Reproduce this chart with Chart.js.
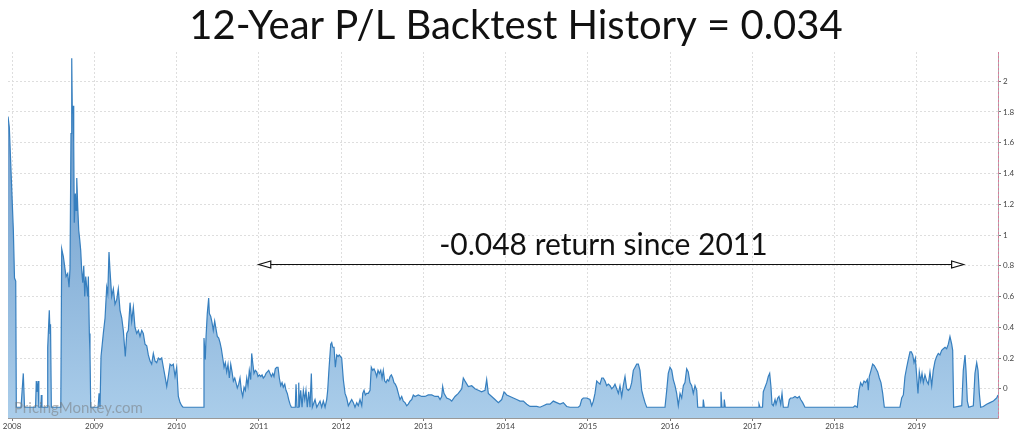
<!DOCTYPE html>
<html><head><meta charset="utf-8">
<script src="https://cdn.jsdelivr.net/npm/chart.js@4.4.0/dist/chart.umd.min.js"></script>
<style>html,body{margin:0;padding:0;background:#fff;overflow:hidden}#wrap{width:1024px;height:435px}</style>
</head><body><div id="wrap"><canvas id="c" width="1024" height="435"></canvas></div>
<script>
const TITLE = '12-Year P/L Backtest History = 0.034';
const NOTE = '-0.048 return since 2011';
const WATERMARK = 'PricingMonkey.com';
const yearTicks = [2008,2009,2010,2011,2012,2013,2014,2015,2016,2017,2018,2019];
const valueTicks = [0,0.2,0.4,0.6,0.8,1,1.2,1.4,1.6,1.8,2];
const arrowFrom = 2011.0, arrowTo = 2019.57, arrowLevel = 0.81, noteAt = 2015.19, noteLevel = 0.87;

const p2008 = [[2007.951,1.77],[2007.967,1.70],[2008.016,1.03],[2008.030,0.72],[2008.045,0.70],[2008.052,-0.12],[2008.109,-0.12],[2008.118,-0.05],[2008.137,0.10],[2008.152,-0.12],[2008.286,-0.12],[2008.295,0.05],[2008.304,-0.02],[2008.316,0.05],[2008.326,-0.12],[2008.350,-0.12],[2008.356,-0.04],[2008.364,-0.12],[2008.429,-0.12],[2008.434,0.27],[2008.453,0.51],[2008.462,0.36],[2008.468,0.42],[2008.478,-0.12],[2008.593,-0.12],[2008.604,0.91],[2008.624,0.86],[2008.644,0.78],[2008.657,0.73],[2008.677,0.75],[2008.693,0.66],[2008.705,0.78],[2008.717,1.66],[2008.726,2.15],[2008.733,1.79],[2008.742,1.84],[2008.750,1.60],[2008.757,1.08],[2008.770,1.27],[2008.778,1.16],[2008.787,1.37],[2008.799,1.18],[2008.811,1.03],[2008.823,0.97],[2008.835,0.90],[2008.847,0.77],[2008.860,0.69],[2008.872,0.80],[2008.884,0.60],[2008.896,0.73],[2008.908,0.66],[2008.920,0.60],[2008.928,0.73],[2008.940,0.36],[2008.948,0.23],[2008.957,-0.12]];
const p2009 = [[2009.046,-0.12],[2009.058,-0.03],[2009.070,-0.12],[2009.082,0.21],[2009.110,0.36],[2009.131,0.46],[2009.151,0.66],[2009.164,0.62],[2009.179,0.89],[2009.191,0.77],[2009.212,0.60],[2009.232,0.65],[2009.252,0.55],[2009.273,0.58],[2009.292,0.65],[2009.313,0.51],[2009.334,0.46],[2009.353,0.38],[2009.377,0.21],[2009.395,0.36],[2009.414,0.38],[2009.435,0.56],[2009.455,0.44],[2009.475,0.53],[2009.495,0.40],[2009.516,0.36],[2009.536,0.38],[2009.556,0.34],[2009.577,0.38],[2009.596,0.36],[2009.617,0.29],[2009.638,0.28],[2009.657,0.22],[2009.678,0.18],[2009.698,0.16],[2009.718,0.23],[2009.739,0.18],[2009.759,0.17],[2009.779,0.20],[2009.799,0.19],[2009.820,0.20],[2009.840,0.14],[2009.860,0.08],[2009.881,0.015],[2009.900,0.08],[2009.921,0.16],[2009.942,0.15],[2009.961,0.16],[2009.982,0.08],[2010.002,0.14],[2010.022,-0.05],[2010.043,-0.09],[2010.063,-0.11],[2010.079,-0.12]];
const p2010 = [[2010.322,-0.12],[2010.334,0.33],[2010.350,0.19],[2010.359,0.34],[2010.374,0.49],[2010.391,0.59],[2010.399,0.49],[2010.416,0.47],[2010.432,0.43],[2010.447,0.38],[2010.464,0.44],[2010.480,0.39],[2010.496,0.34],[2010.513,0.33],[2010.529,0.30],[2010.545,0.26],[2010.562,0.20],[2010.578,0.14],[2010.593,0.17],[2010.610,0.11],[2010.626,0.16],[2010.642,0.07],[2010.659,0.16],[2010.675,0.11],[2010.691,0.05],[2010.708,0.07],[2010.723,0.04],[2010.739,0.005],[2010.756,0.03],[2010.772,0.07],[2010.788,-0.01],[2010.805,-0.05],[2010.821,0.01],[2010.837,-0.01],[2010.854,0.07],[2010.869,0.02],[2010.885,0.12],[2010.902,0.06],[2010.914,0.23],[2010.926,0.17],[2010.942,0.10],[2010.958,0.12],[2010.975,0.11],[2010.991,0.08]];
const p2011 = [[2011.007,0.09],[2011.024,0.08],[2011.040,0.09],[2011.055,0.07],[2011.072,0.08],[2011.088,0.10],[2011.104,0.11],[2011.121,0.12],[2011.137,0.10],[2011.153,0.08],[2011.170,0.10],[2011.185,0.08],[2011.201,0.13],[2011.218,0.14],[2011.234,0.14],[2011.250,0.07],[2011.267,0.02],[2011.283,0.04],[2011.298,0.01],[2011.316,0.03],[2011.331,-0.01],[2011.347,-0.03],[2011.364,-0.07],[2011.380,-0.10],[2011.396,-0.12],[2011.444,-0.12],[2011.453,0.03],[2011.465,-0.12],[2011.481,-0.12],[2011.486,0.04],[2011.493,-0.12],[2011.510,-0.01],[2011.526,-0.12],[2011.542,-0.01],[2011.559,-0.07],[2011.574,-0.01],[2011.590,-0.12],[2011.607,-0.02],[2011.623,-0.12],[2011.639,0.10],[2011.651,-0.12],[2011.684,-0.07],[2011.705,-0.12],[2011.745,-0.08],[2011.765,-0.12],[2011.785,-0.08],[2011.806,-0.12],[2011.826,-0.07],[2011.838,-0.01],[2011.854,0.13],[2011.875,0.29],[2011.887,0.30],[2011.899,0.27],[2011.915,0.27],[2011.931,0.14],[2011.948,0.22],[2011.964,0.21],[2011.979,0.22]];
const p2012 = [[2012.008,0.20],[2012.028,0.06],[2012.049,-0.03],[2012.069,-0.06],[2012.089,-0.11],[2012.109,-0.09],[2012.130,-0.07],[2012.150,-0.09],[2012.170,-0.12],[2012.191,-0.09],[2012.210,-0.11],[2012.231,-0.07],[2012.252,-0.11],[2012.264,-0.03],[2012.280,-0.01],[2012.296,-0.04],[2012.312,-0.03],[2012.332,-0.03],[2012.353,-0.01],[2012.368,0.14],[2012.385,0.12],[2012.401,0.13],[2012.417,0.11],[2012.434,0.08],[2012.450,0.12],[2012.466,0.10],[2012.483,0.12],[2012.499,0.07],[2012.514,0.12],[2012.531,0.05],[2012.547,0.04],[2012.563,0.06],[2012.580,0.05],[2012.596,0.08],[2012.612,0.09],[2012.629,0.07],[2012.644,0.04],[2012.660,0.03],[2012.677,0.01],[2012.697,-0.03],[2012.717,-0.07],[2012.738,-0.05],[2012.757,-0.08],[2012.778,-0.09],[2012.799,-0.11],[2012.818,-0.10],[2012.839,-0.08],[2012.860,-0.07],[2012.879,-0.04],[2012.900,-0.05],[2012.940,-0.04],[2012.981,-0.05]];
const p2013 = [[2013.021,-0.05],[2013.061,-0.04],[2013.103,-0.04],[2013.143,-0.05],[2013.183,-0.05],[2013.204,-0.07],[2013.224,-0.05],[2013.236,0.015],[2013.252,-0.03],[2013.285,-0.06],[2013.325,-0.07],[2013.346,-0.08],[2013.386,-0.05],[2013.426,-0.03],[2013.468,0.00],[2013.487,0.07],[2013.508,0.05],[2013.548,0.015],[2013.589,0.02],[2013.629,0.00],[2013.669,-0.01],[2013.709,-0.02],[2013.751,-0.01],[2013.771,0.06],[2013.791,-0.03],[2013.832,-0.05],[2013.872,-0.07],[2013.913,-0.09],[2013.954,-0.07],[2013.982,-0.02]];
const p2014 = [[2014.015,-0.04],[2014.055,-0.05],[2014.095,-0.06],[2014.136,-0.07],[2014.176,-0.08],[2014.217,-0.08],[2014.258,-0.10],[2014.298,-0.115],[2014.379,-0.115],[2014.419,-0.12],[2014.460,-0.11],[2014.501,-0.10],[2014.541,-0.10],[2014.581,-0.08],[2014.622,-0.09],[2014.663,-0.10],[2014.703,-0.09],[2014.744,-0.115],[2014.784,-0.12],[2014.885,-0.12],[2014.906,-0.11],[2014.926,-0.07],[2014.946,-0.06],[2014.987,-0.06]];
const p2015 = [[2015.027,-0.07],[2015.048,-0.11],[2015.068,-0.08],[2015.088,-0.03],[2015.109,0.05],[2015.128,0.04],[2015.149,0.03],[2015.170,0.07],[2015.189,0.07],[2015.210,0.05],[2015.230,0.02],[2015.250,0.03],[2015.271,0.02],[2015.291,0.00],[2015.311,0.01],[2015.331,0.03],[2015.352,0.00],[2015.372,-0.03],[2015.392,0.02],[2015.413,-0.05],[2015.432,0.02],[2015.453,0.08],[2015.473,0.00],[2015.493,-0.01],[2015.514,0.00],[2015.534,0.04],[2015.554,0.12],[2015.575,0.14],[2015.595,0.16],[2015.615,0.16],[2015.635,0.12],[2015.656,-0.01],[2015.675,-0.05],[2015.696,-0.09],[2015.717,-0.12]];
const p2016 = [[2015.939,-0.12],[2015.960,-0.01],[2015.979,0.10],[2016.000,0.14],[2016.021,0.12],[2016.040,0.06],[2016.061,0.02],[2016.081,-0.03],[2016.101,-0.11],[2016.122,-0.03],[2016.142,-0.06],[2016.162,0.02],[2016.182,0.04],[2016.203,0.13],[2016.222,0.11],[2016.243,0.04],[2016.264,0.02],[2016.283,-0.03],[2016.304,0.02],[2016.325,-0.01],[2016.337,-0.12],[2016.401,-0.12],[2016.405,-0.07],[2016.417,-0.12],[2016.614,-0.12],[2016.620,-0.02],[2016.632,-0.12],[2016.656,-0.12],[2016.660,-0.07],[2016.672,-0.12]];
const p2017 = [[2017.076,-0.12],[2017.082,-0.10],[2017.094,-0.12],[2017.125,-0.12],[2017.134,-0.02],[2017.155,0.01],[2017.176,0.04],[2017.195,0.08],[2017.212,0.10],[2017.228,0.01],[2017.240,-0.10],[2017.256,-0.11],[2017.277,-0.07],[2017.289,-0.10],[2017.310,-0.06],[2017.325,-0.05],[2017.346,-0.10],[2017.362,-0.03],[2017.378,-0.12],[2017.434,-0.12],[2017.451,-0.07],[2017.467,-0.06],[2017.492,-0.06],[2017.520,-0.05],[2017.548,-0.06],[2017.572,-0.05],[2017.589,-0.07],[2017.613,-0.09],[2017.641,-0.12]];
const p2018 = [[2018.229,-0.12],[2018.249,-0.11],[2018.277,-0.12],[2018.298,-0.01],[2018.318,0.04],[2018.338,0.02],[2018.359,0.05],[2018.379,0.04],[2018.399,0.06],[2018.411,-0.01],[2018.423,0.08],[2018.444,0.12],[2018.464,0.16],[2018.484,0.15],[2018.505,0.13],[2018.525,0.11],[2018.545,0.07],[2018.565,0.04],[2018.586,-0.03],[2018.606,-0.12]];
const p2019 = [[2018.796,-0.12],[2018.817,-0.06],[2018.837,-0.04],[2018.857,0.08],[2018.878,0.14],[2018.897,0.19],[2018.918,0.24],[2018.934,0.24],[2018.951,0.22],[2018.967,0.17],[2018.983,0.20],[2019.000,0.08],[2019.015,-0.03],[2019.031,0.11],[2019.048,0.05],[2019.064,0.10],[2019.080,0.04],[2019.100,0.09],[2019.121,0.05],[2019.141,0.03],[2019.161,0.11],[2019.182,0.02],[2019.201,0.12],[2019.222,0.18],[2019.242,0.21],[2019.262,0.23],[2019.282,0.22],[2019.303,0.25],[2019.323,0.26],[2019.344,0.27],[2019.364,0.26],[2019.384,0.29],[2019.404,0.34],[2019.425,0.29],[2019.437,0.25],[2019.449,-0.12],[2019.547,-0.11],[2019.566,0.12],[2019.587,0.22],[2019.599,0.12],[2019.615,-0.08],[2019.632,-0.12],[2019.688,-0.11],[2019.708,0.10],[2019.729,0.17],[2019.745,0.12],[2019.761,-0.03],[2019.777,-0.12],[2019.809,-0.115],[2019.850,-0.10],[2019.891,-0.09],[2019.931,-0.08],[2019.951,-0.07],[2019.972,-0.06],[2019.988,-0.04]];

const series = [].concat(p2008,p2009,p2010,p2011,p2012,p2013,p2014,p2015,p2016,p2017,p2018,p2019).map(p => ({x:p[0], y:p[1]}));

function fmt(v){ return String(Math.round(v*10)/10); }

const decor = {
  id:'decor',
  afterDatasetsDraw(chart){
    const ctx = chart.ctx, a = chart.chartArea, xs = chart.scales.x, ys = chart.scales.y;
    ctx.save();
    ctx.font = '15px Lato';
    ctx.fillStyle = 'rgba(115,115,115,0.5)';
    ctx.textAlign = 'left'; ctx.textBaseline = 'alphabetic';
    ctx.fillText(WATERMARK, a.left + 6, a.bottom - 5);
    ctx.strokeStyle = '#d9789a'; ctx.lineWidth = 1; ctx.setLineDash([2,2]);
    ctx.beginPath(); ctx.moveTo(Math.round(a.right)+0.5, a.top); ctx.lineTo(Math.round(a.right)+0.5, a.bottom); ctx.stroke();
    ctx.setLineDash([]);
    const y = Math.round(ys.getPixelForValue(arrowLevel)) + 0.5;
    const x1 = xs.getPixelForValue(arrowFrom), x2 = xs.getPixelForValue(arrowTo);
    const L = 12, H = 3.5;
    ctx.strokeStyle = '#111'; ctx.lineWidth = 1.2;
    ctx.beginPath(); ctx.moveTo(x1 + L, y); ctx.lineTo(x2 - L, y); ctx.stroke();
    ctx.fillStyle = '#fff';
    ctx.beginPath(); ctx.moveTo(x1, y); ctx.lineTo(x1 + L, y - H); ctx.lineTo(x1 + L, y + H); ctx.closePath(); ctx.fill(); ctx.stroke();
    ctx.beginPath(); ctx.moveTo(x2, y); ctx.lineTo(x2 - L, y - H); ctx.lineTo(x2 - L, y + H); ctx.closePath(); ctx.fill(); ctx.stroke();
    ctx.font = '30px Lato';
    ctx.fillStyle = '#111'; ctx.textAlign = 'center'; ctx.textBaseline = 'alphabetic';
    ctx.fillText(NOTE, xs.getPixelForValue(noteAt), ys.getPixelForValue(noteLevel));
    ctx.restore();
  }
};

new Chart(document.getElementById('c'), {
  type:'line',
  data:{ datasets:[{
    data: series,
    borderColor:'#367fbf', borderWidth:1.2, pointRadius:0, tension:0, fill:'start',
    backgroundColor(c){
      const a = c.chart.chartArea; if (!a) return 'rgba(150,195,230,0.8)';
      const g = c.chart.ctx.createLinearGradient(0, a.top, 0, a.bottom);
      g.addColorStop(0, '#6192c5'); g.addColorStop(1, '#aacdea');
      return g;
    }
  }]},
  options:{
    responsive:false, animation:false, devicePixelRatio:1,
    layout:{padding:{left:8,right:0,top:0,bottom:0}},
    plugins:{
      legend:{display:false}, tooltip:{enabled:false},
      title:{display:true, text:TITLE, color:'#111', font:{family:'Lato', size:40, weight:'normal'}, padding:{top:2,bottom:2}}
    },
    scales:{
      x:{
        type:'linear', min:2007.951, max:2019.988,
        afterBuildTicks(s){ s.ticks = yearTicks.map(v => ({value:v})); },
        afterFit(s){ s.height = 17; },
        ticks:{callback:v => String(v), font:{family:'Lato', size:8}, color:'#444', padding:1, maxRotation:0, autoSkip:false},
        grid:{color:'#dedede', lineWidth:1, drawTicks:true, tickLength:3, tickColor:'#777'},
        border:{display:true, color:'#999', width:1, dash:[2,2]}
      },
      y:{
        position:'right', min:-0.19, max:2.19,
        afterBuildTicks(s){ s.ticks = valueTicks.map(v => ({value:v})); },
        afterFit(s){ s.width = 26; },
        ticks:{callback:v => fmt(v), font:{family:'Lato', size:8}, color:'#444', padding:2},
        grid:{color:'#dedede', lineWidth:1, drawTicks:true, tickLength:3, tickColor:'#777'},
        border:{display:true, color:'#aaa', width:1, dash:[2,2]}
      }
    }
  },
  plugins:[decor]
});
</script></body></html>
